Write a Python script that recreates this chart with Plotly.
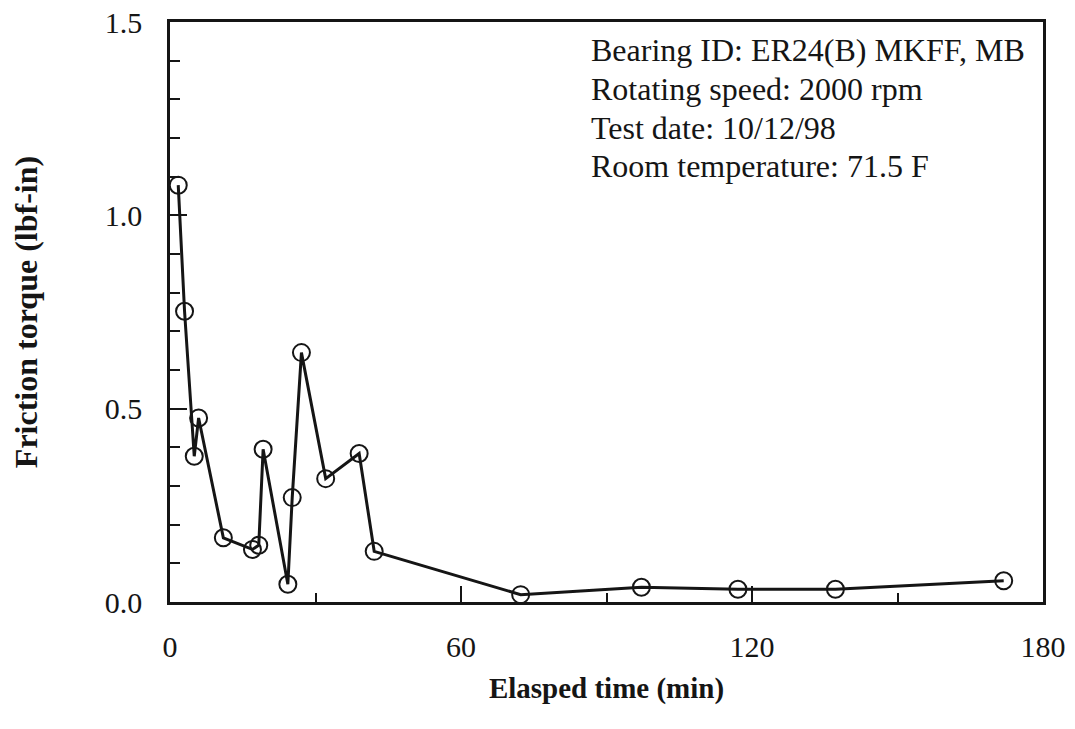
import plotly.graph_objects as go

elapsed_min = [1.7, 3.0, 5.0, 5.9, 11.0, 17.0, 18.3, 19.2, 24.3, 25.2, 27.1,
               32.1, 39.0, 42.1, 72.3, 97.2, 117.1, 137.2, 171.9]
friction_torque = [1.078, 0.752, 0.377, 0.476, 0.166, 0.136, 0.147, 0.395, 0.046,
                   0.270, 0.645, 0.319, 0.384, 0.131, 0.019, 0.038, 0.033, 0.033, 0.055]

info_lines = ["Bearing ID: ER24(B) MKFF, MB",
              "Rotating speed: 2000 rpm",
              "Test date: 10/12/98",
              "Room temperature: 71.5 F"]

x_ticks = [0, 60, 120, 180]
y_ticks = [0.0, 0.5, 1.0, 1.5]
y_tick_text = ["0.0", "0.5", "1.0", "1.5"]

SERIF = "Liberation Serif, Times New Roman, serif"
INK = "#151515"

fig = go.Figure()
fig.add_trace(go.Scatter(
    x=elapsed_min, y=friction_torque, mode="lines+markers",
    line=dict(color=INK, width=3),
    marker=dict(symbol="circle-open", size=17, color=INK, line=dict(width=2, color=INK)),
    cliponaxis=False, showlegend=False,
))

# info box, one annotation per text line (pixel rows converted to paper units)
plot_top, plot_bottom = 22, 601.7
line_rows = [50, 89, 128, 166]
for txt, row in zip(info_lines, line_rows):
    fig.add_annotation(
        text=txt, xref="paper", yref="paper",
        x=0.4805, y=(plot_bottom - row) / (plot_bottom - plot_top),
        xanchor="left", yanchor="middle", align="left",
        showarrow=False, font=dict(family=SERIF, size=32, color=INK),
    )

fig.update_layout(
    width=1075, height=729,
    margin=dict(l=170, r=32, t=22, b=127),
    paper_bgcolor="white", plot_bgcolor="white",
    font=dict(family=SERIF, color=INK),
)
fig.update_xaxes(
    range=[0, 180], tickvals=x_ticks, ticks="inside", ticklen=16, tickwidth=2, tickcolor=INK,
    minor=dict(ticks="inside", dtick=30, tick0=0, ticklen=9, tickwidth=2, tickcolor=INK),
    showline=True, mirror=True, linewidth=2.5, linecolor=INK,
    showgrid=False, zeroline=False, automargin=False,
    tickfont=dict(family=SERIF, size=30, color=INK), ticklabelstandoff=16,
    title=dict(text="<b>Elasped time (min)</b>", font=dict(family=SERIF, size=29, color=INK), standoff=16),
)
fig.update_yaxes(
    range=[0, 1.5], tickvals=y_ticks, ticktext=y_tick_text, ticks="inside", ticklen=17, tickwidth=2, tickcolor=INK,
    minor=dict(ticks="inside", dtick=0.1, tick0=0, ticklen=10, tickwidth=2, tickcolor=INK),
    showline=True, mirror=True, linewidth=2.5, linecolor=INK,
    showgrid=False, zeroline=False, automargin=False,
    tickfont=dict(family=SERIF, size=30, color=INK), ticklabelstandoff=19,
    title=dict(text="<b>Friction torque (lbf-in)</b>", font=dict(family=SERIF, size=32, color=INK), standoff=58),
)

fig.write_html("out.html")
